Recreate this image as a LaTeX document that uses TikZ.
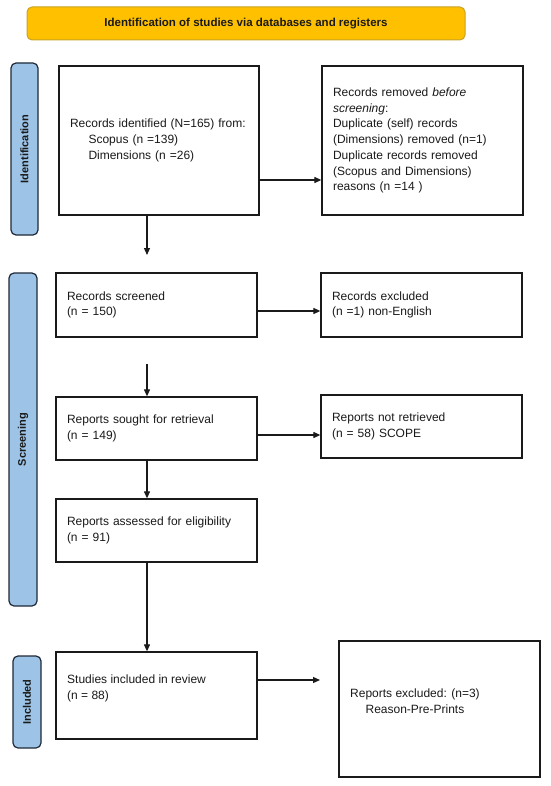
\documentclass[tikz,border=0pt]{standalone}
\usepackage{fontspec}
\setmainfont{Liberation Sans}
\usetikzlibrary{arrows.meta,calc}
\definecolor{gold}{HTML}{FFC000}
\definecolor{goldline}{HTML}{C9A227}
\definecolor{sideblue}{HTML}{9DC3E6}
\definecolor{sideline}{HTML}{1F2937}
\definecolor{ink}{HTML}{1A1A1A}
\begin{document}
\begin{tikzpicture}[x=1pt,y=-1pt,
  box/.style={draw=ink,line width=1.3pt,rectangle,inner xsep=11pt,inner ysep=0pt,align=left,
    font=\fontsize{12}{15.7}\selectfont,text=ink},
  sidebar/.style={draw=sideline,line width=1.2pt,fill=sideblue,rounded corners=5pt,rotate=90,
    font=\fontsize{11}{13}\selectfont\bfseries,text=ink,inner sep=0pt},
  txt/.style={inner sep=0pt,font=\fontsize{12}{15.7}\selectfont,text=ink},
  arr/.style={draw=ink,line width=1.2pt,-{Triangle[length=7pt,width=6pt]}},
  titlebox/.style={draw=goldline,line width=1pt,fill=gold,rounded corners=5pt,
    font=\fontsize{11.5}{13}\selectfont\bfseries,text=ink,inner sep=0pt}
  ]
\useasboundingbox (0,0) rectangle (550,786);
\fill[white] (0,0) rectangle (550,786);

% title
\node[titlebox,minimum width=438pt,minimum height=33pt] (title) at (246,23.5)
  {Identification of studies via databases and registers};

% side bars
\node[sidebar,minimum width=172pt,minimum height=27pt] (sbid) at (24.5,149) {Identification};
\node[sidebar,minimum width=333pt,minimum height=28pt] (sbsc) at (23,439.5) {Screening};
\node[sidebar,minimum width=92pt,minimum height=28pt] (sbin) at (27,702) {Included};

% boxes
\node[box,text width=178pt,minimum height=149pt] (ident) at (159,140.5)
  {Records identified (N=165) from:\\\hspace*{18.5pt}Scopus (n =139)\\\hspace*{18.5pt}Dimensions (n =26)};
\node[box,text width=179pt,minimum height=149pt] (removed) at (422.5,140.5)
  {Records removed \textit{before}\\\textit{screening}:\\Duplicate (self) records\\(Dimensions) removed (n=1)\\Duplicate records removed\\(Scopus and Dimensions)\\reasons (n =14 )};
\node[box,text width=179pt,minimum height=64pt] (screened) at (156.5,305)
  {Records screened\\(n = 150)};
\node[box,text width=179pt,minimum height=64pt] (excluded) at (421.5,305)
  {Records excluded\\(n =1) non-English};
\node[box,text width=179pt,minimum height=63pt] (sought) at (156.5,428.5)
  {Reports sought for retrieval\\(n = 149)};
\node[box,text width=179pt,minimum height=63pt] (notret) at (421.5,426.5)
  {Reports not retrieved\\(n = 58) SCOPE};
\node[box,text width=179pt,minimum height=63pt] (assessed) at (156.5,530.5)
  {Reports assessed for eligibility\\(n = 91)};
\node[box,minimum width=201pt,minimum height=87pt] (included) at (156.5,695.5) {};
\node[txt,anchor=west,align=left] (includedtxt) at (67,688.5)
  {Studies included in review\\(n = 88)};
\node[box,minimum width=201pt,minimum height=136pt] (repexcl) at (439.5,709) {};
\node[txt,anchor=west,align=center] (repexcltxt) at (350,701.5)
  {Reports excluded: (n=3)\\Reason-Pre-Prints};

% helper coordinates
\coordinate (xa) at (147,0);
\coordinate (ya) at (0,180);
\coordinate (yb) at (0,311);
\coordinate (yc) at (0,435);
\coordinate (c1) at (147,255);
\coordinate (c2) at (147,364);
\coordinate (c3) at (320,680);

% connectors
\draw[arr] (ident.east |- ya) -- (removed.west |- ya);
\draw[arr] (ident.south -| xa) -- (c1);
\draw[arr] (screened.east |- yb) -- (excluded.west |- yb);
\draw[arr] (c2) -- (sought.north -| xa);
\draw[arr] (sought.east |- yc) -- (notret.west |- yc);
\draw[arr] (sought.south -| xa) -- (assessed.north -| xa);
\draw[arr] (assessed.south -| xa) -- (included.north -| xa);
\draw[arr] (included.east |- c3) -- (c3);
\end{tikzpicture}
\end{document}
